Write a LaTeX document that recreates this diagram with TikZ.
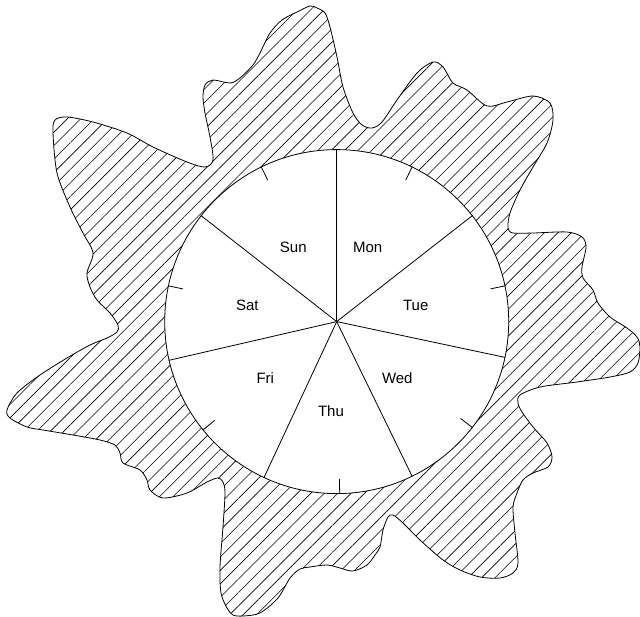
\documentclass[tikz,border=0pt]{standalone}
\usepackage{fontspec}
\setmainfont{Liberation Sans}
\usetikzlibrary{patterns.meta,calc}
\begin{document}
\begin{tikzpicture}[x=1pt,y=-1pt,
  outline/.style={line width=0.8pt},
  hatch/.style={pattern={Lines[angle=45,distance=9.5pt,line width=0.6pt]}},
  daylabel/.style={font=\fontsize{15}{18}\selectfont, inner sep=0pt},
  dayline/.style={line width=0.8pt},
  tickmark/.style={line width=0.8pt}]
\useasboundingbox (0,0) rectangle (640,616);
\draw[outline, hatch] plot[smooth cycle, tension=0.5] coordinates {
 (310,6) (317,8) (325,13) (330,27) (337,57) (343,87) (353,113) (362,125) (372,128)
 (382,122) (397,100) (417,73) (433,62) (443,67) (453,83) (467,90) (487,106)
 (507,102) (533,96) (550,103) (553,120) (547,143) (533,167) (520,190) (510,213)
 (508,228) (513,233) (533,233) (567,232) (582,237) (586,247) (582,267) (583,278)
 (593,290) (598,303) (610,317) (627,328) (637,337) (640,347) (638,363) (630,372)
 (610,377) (577,382) (540,387) (520,395) (518,403) (522,412) (533,427) (547,443)
 (552,457) (548,467) (533,473) (523,480) (517,493) (513,507) (515,533) (518,563)
 (513,573) (500,578) (480,577) (460,570) (443,560) (420,540) (403,523) (393,515)
 (388,517) (383,530) (380,547) (375,555) (367,565) (353,571) (340,568) (327,565)
 (310,567) (300,569) (290,578) (278,598) (260,613) (243,616) (233,615) (227,608)
 (221,593) (220,567) (223,527) (225,493) (223,482) (218,478) (207,482) (187,493)
 (163,498) (150,490) (147,480) (140,470) (123,463) (120,453) (115,445) (100,440)
 (73,435) (43,430) (27,427) (10,418) (7,410) (17,393) (40,375) (67,358) (90,345)
 (107,338) (117,332) (118,325) (110,313) (97,300) (90,287) (87,273) (93,253)
 (83,233) (70,207) (57,173) (53,133) (55,120) (67,117) (93,122) (127,133)
 (153,147) (187,162) (205,167) (213,160) (210,137) (205,113) (203,97) (205,85)
 (213,80) (230,83) (240,78) (253,65) (260,53) (270,33) (282,20) (297,12)
};
\node[circle, draw, fill=white, minimum size=344pt, inner sep=0pt, line width=0.8pt] (C) at (336.7,321.6) {};
\coordinate (c) at (336.7,321.6);
\foreach \k in {0,...,6} {
  \pgfmathsetmacro\a{90-\k*360/7}
  \pgfmathsetmacro\b{90-\k*360/7-180/7}
  \draw[dayline] (c) -- (C.\a);
  \draw[tickmark] (C.\b) -- ($(c)!0.912!(C.\b)$);
}
\node[daylabel] (sun) at (293.3,247.3) {Sun};
\node[daylabel] (mon) at (367.7,247.3) {Mon};
\node[daylabel] (tue) at (415.7,305) {Tue};
\node[daylabel] (sat) at (247.3,305) {Sat};
\node[daylabel] (fri) at (265.3,378.3) {Fri};
\node[daylabel] (wed) at (397.3,378.3) {Wed};
\node[daylabel] (thu) at (331,410.7) {Thu};
\end{tikzpicture}
\end{document}
